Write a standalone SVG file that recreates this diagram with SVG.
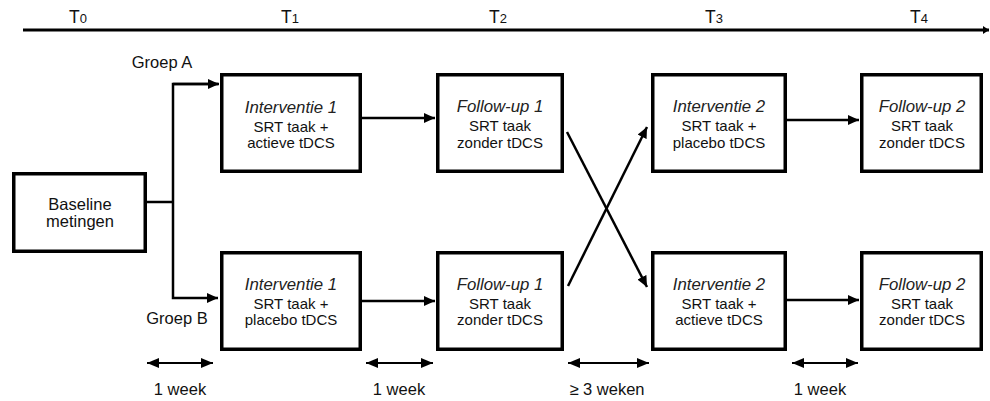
<svg xmlns="http://www.w3.org/2000/svg" width="990" height="401" viewBox="0 0 990 401">
<style>
text{font-family:"Liberation Sans",Arial,sans-serif;fill:#111;text-anchor:middle}
.box{fill:#fff;stroke:#000;stroke-width:3.5}
.t{font-size:15px}
.i{font-size:16.8px;font-style:italic;fill:#222}
.lbl{font-size:16.5px}
.tl{font-size:17.5px}
.sub{font-size:13px}
.c{stroke:#000;stroke-width:2.5;fill:none}
.d{stroke:#000;stroke-width:2;fill:none}
</style>
<defs>
<marker id="ah" markerUnits="userSpaceOnUse" markerWidth="11" markerHeight="10" refX="11" refY="5" orient="auto"><path d="M0,0 L11,5 L0,10 z" fill="#000"/></marker>
<marker id="dh" markerUnits="userSpaceOnUse" markerWidth="12" markerHeight="10" refX="12" refY="5" orient="auto-start-reverse"><path d="M0,0 L12,5 L0,10 z" fill="#000"/></marker>
<marker id="th" markerUnits="userSpaceOnUse" markerWidth="6" markerHeight="8" refX="6" refY="4" orient="auto"><path d="M0,0 L6,4 L0,8 z" fill="#000"/></marker>
</defs>

<g id="timeline">
<line x1="23" y1="30" x2="989" y2="30" stroke="#000" stroke-width="3" marker-end="url(#th)"/>
<text class="tl" x="78" y="23">T<tspan class="sub">0</tspan></text>
<text class="tl" x="290" y="23">T<tspan class="sub">1</tspan></text>
<text class="tl" x="498" y="23">T<tspan class="sub">2</tspan></text>
<text class="tl" x="714" y="23">T<tspan class="sub">3</tspan></text>
<text class="tl" x="919" y="23">T<tspan class="sub">4</tspan></text>
</g>

<g id="connectors">
<polyline class="c" points="147,202 173,202"/>
<polyline class="c" points="218,84 173,84 173,298 218,298" marker-end="url(#ah)"/>
<line class="c" x1="173" y1="84" x2="219" y2="84" marker-end="url(#ah)"/>
<line class="c" x1="362" y1="118" x2="435" y2="118" marker-end="url(#ah)"/>
<line class="c" x1="362" y1="301" x2="435" y2="301" marker-end="url(#ah)"/>
<line class="c" x1="567" y1="132" x2="647" y2="287" marker-end="url(#ah)"/>
<line class="c" x1="568" y1="286" x2="647" y2="127" marker-end="url(#ah)"/>
<line class="c" x1="787" y1="120" x2="859" y2="120" marker-end="url(#ah)"/>
<line class="c" x1="787" y1="300" x2="859" y2="300" marker-end="url(#ah)"/>
</g>

<g id="durations">
<line class="d" x1="147" y1="363" x2="213" y2="363" marker-start="url(#dh)" marker-end="url(#dh)"/>
<line class="d" x1="366" y1="363" x2="433" y2="363" marker-start="url(#dh)" marker-end="url(#dh)"/>
<line class="d" x1="568" y1="363" x2="649" y2="363" marker-start="url(#dh)" marker-end="url(#dh)"/>
<line class="d" x1="792" y1="363" x2="858" y2="363" marker-start="url(#dh)" marker-end="url(#dh)"/>
<text class="lbl" x="180" y="395">1 week</text>
<text class="lbl" x="399" y="395">1 week</text>
<text class="lbl" x="607" y="395">≥ 3 weken</text>
<text class="lbl" x="820" y="395">1 week</text>
</g>

<g id="groepA"><text class="lbl" x="162" y="68">Groep A</text></g>
<g id="groepB"><text class="lbl" x="177" y="324">Groep B</text></g>

<g id="baseline">
<rect class="box" x="13.75" y="173.75" width="131.5" height="77.5"/>
<text class="lbl" x="80" y="210">Baseline</text>
<text class="lbl" x="80" y="227">metingen</text>
</g>

<g id="A-interventie1">
<rect class="box" x="221.75" y="74.75" width="138.5" height="96.5"/>
<text class="i" x="291" y="113">Interventie 1</text>
<text class="t" x="291" y="132">SRT taak +</text>
<text class="t" x="291" y="148">actieve tDCS</text>
</g>
<g id="A-followup1">
<rect class="box" x="437.75" y="74.75" width="124.5" height="96.5"/>
<text class="i" x="500" y="112">Follow-up 1</text>
<text class="t" x="500" y="131">SRT taak</text>
<text class="t" x="500" y="148">zonder tDCS</text>
</g>
<g id="A-interventie2">
<rect class="box" x="652.75" y="74.75" width="132.5" height="96.5"/>
<text class="i" x="719" y="112">Interventie 2</text>
<text class="t" x="719" y="131">SRT taak +</text>
<text class="t" x="719" y="148">placebo tDCS</text>
</g>
<g id="A-followup2">
<rect class="box" x="861.75" y="74.75" width="119.5" height="96.5"/>
<text class="i" x="922" y="112">Follow-up 2</text>
<text class="t" x="922" y="131">SRT taak</text>
<text class="t" x="922" y="148">zonder tDCS</text>
</g>

<g id="B-interventie1">
<rect class="box" x="221.75" y="252.75" width="138.5" height="96.5"/>
<text class="i" x="291" y="290">Interventie 1</text>
<text class="t" x="291" y="309">SRT taak +</text>
<text class="t" x="291" y="325">placebo tDCS</text>
</g>
<g id="B-followup1">
<rect class="box" x="437.75" y="252.75" width="124.5" height="96.5"/>
<text class="i" x="500" y="290">Follow-up 1</text>
<text class="t" x="500" y="309">SRT taak</text>
<text class="t" x="500" y="325">zonder tDCS</text>
</g>
<g id="B-interventie2">
<rect class="box" x="652.75" y="252.75" width="132.5" height="96.5"/>
<text class="i" x="719" y="290">Interventie 2</text>
<text class="t" x="719" y="309">SRT taak +</text>
<text class="t" x="719" y="325">actieve tDCS</text>
</g>
<g id="B-followup2">
<rect class="box" x="861.75" y="252.75" width="119.5" height="96.5"/>
<text class="i" x="922" y="290">Follow-up 2</text>
<text class="t" x="922" y="309">SRT taak</text>
<text class="t" x="922" y="325">zonder tDCS</text>
</g>
</svg>
